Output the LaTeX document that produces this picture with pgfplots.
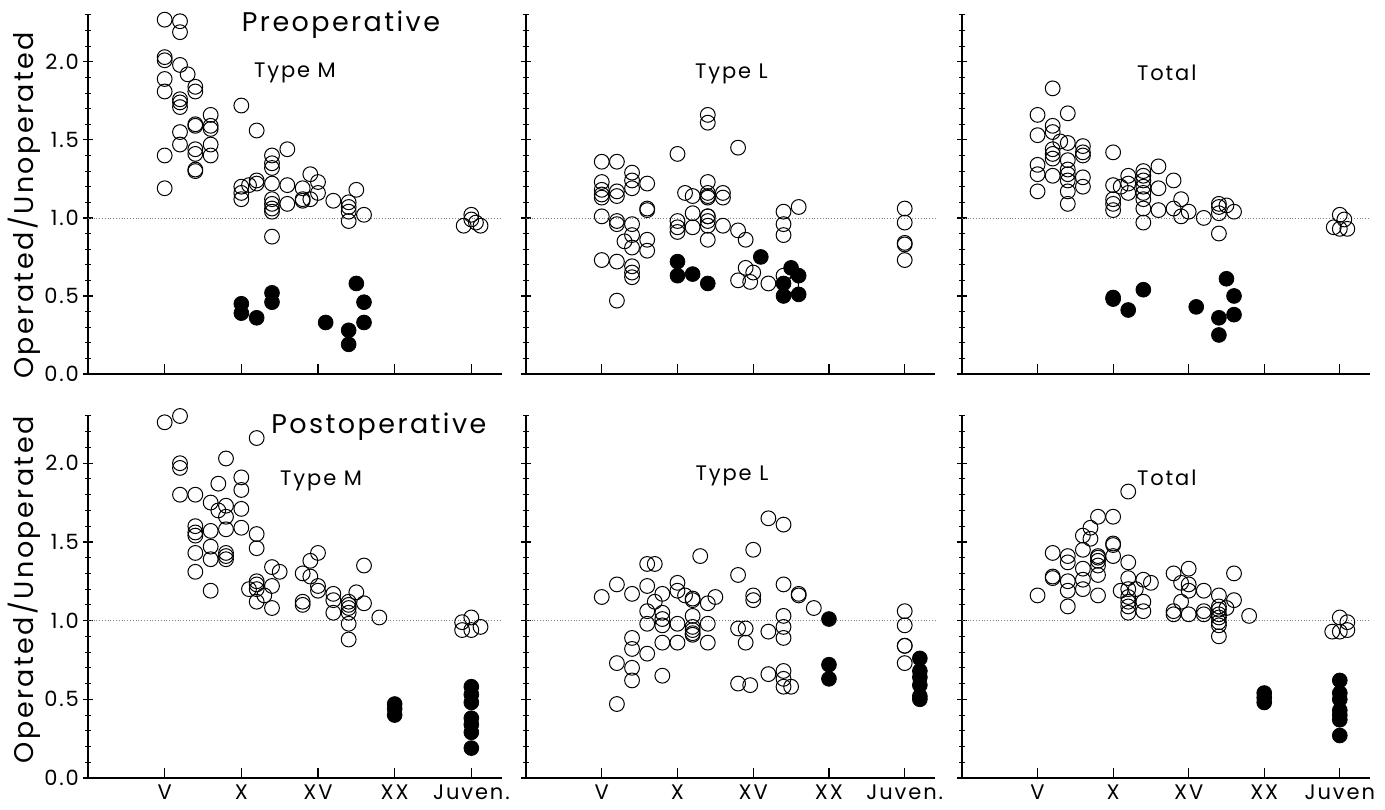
\documentclass[border=0pt]{standalone}
\usepackage{pgfplots}
\pgfplotsset{compat=1.18}
\usepackage{fontspec}
\setmainfont{Poppins}[LetterSpace=9]

\pgfplotsset{
  panel/.style={
    scale only axis, clip=false,
    xmin=0, xmax=27, ymin=0, ymax=2.3,
    axis x line*=bottom, axis y line*=left,
    axis line style={-, line width=0.7pt},
    xtick={5,10,15,20,25},
    ytick={0,0.5,1,1.5,2},
    minor ytick={0.1,0.2,0.3,0.4,0.6,0.7,0.8,0.9,1.1,1.2,1.3,1.4,1.6,1.7,1.8,1.9,2.1,2.2,2.3},
    xtick align=inside, ytick align=center,
    major tick length=5pt, minor tick length=3pt,
    every tick/.style={black, line width=0.6pt},
    minor tick style={line width=0.5pt},
    xticklabels={}, yticklabels={},
    tick label style={font=\fontsize{10.5}{12}\selectfont},
    yticklabel style={xshift=1.5pt},
    every axis y label/.style={rotate=90, anchor=center, font=\fontsize{13.5}{15}\selectfont},
  },
  ylab/.style={yticklabels={0.0,0.5,1.0,1.5,2.0}, ylabel={Operated/Unoperated}},
  xlab/.style={xticklabels={V,X,XV,XX,Juven.}},
  opn/.style={only marks, mark=o, mark size=3.7pt, mark options={line width=0.5pt, black}},
  fil/.style={only marks, mark=*, mark size=3.7pt, mark options={black, fill=black}},
  ref/.style={densely dotted, gray, line width=0.4pt, forget plot},
}
\newcommand{\bigttl}[1]{\fontsize{13.5}{15}\selectfont #1}
\newcommand{\midttl}[1]{\fontsize{10.5}{12}\selectfont #1}

\begin{document}
\begin{tikzpicture}
\useasboundingbox (0pt,0pt) rectangle (692.5pt,404.5pt);

% ---------------- Top left: Preoperative, Type M
\begin{axis}[panel, ylab, ylabel style={at={(axis description cs:-0.155,0.47)}}, at={(44pt,217.5pt)}, anchor=south west, width=207pt, height=179.5pt]
\addplot[ref] coordinates {(0,1) (27,1)};
\addplot[opn] coordinates {
(5,2.27)(5,2.03)(5,2.01)(5,1.89)(5,1.81)(5,1.40)(5,1.19)
(6,2.26)(6,2.19)(6,1.98)(6,1.76)(6,1.74)(6,1.71)(6,1.55)(6,1.47)
(6.5,1.92)
(7,1.84)(7,1.81)(7,1.60)(7,1.59)(7,1.44)(7,1.41)(7,1.31)(7,1.30)
(8,1.66)(8,1.59)(8,1.57)(8,1.47)(8,1.40)
(10,1.72)(10,1.20)(10,1.16)(10,1.12)
(10.5,1.21)
(11,1.56)(11,1.24)(11,1.22)
(12,1.40)(12,1.35)(12,1.32)(12,1.22)(12,1.12)(12,1.09)(12,1.06)(12,1.04)(12,0.88)
(13,1.44)(13,1.21)(13,1.09)
(14,1.19)(14,1.12)(14,1.11)
(14.5,1.28)(14.5,1.12)
(15,1.23)(15,1.16)
(16,1.11)
(17,1.10)(17,1.07)(17,1.04)(17,0.98)
(17.5,1.18)
(18,1.02)
(24.5,0.95)(25,1.02)(25,0.99)(25.3,0.97)(25.6,0.95)
};
\addplot[fil] coordinates {
(10,0.45)(10,0.39)(11,0.36)(12,0.52)(12,0.46)(15.5,0.33)(17,0.28)(17,0.19)(17.5,0.58)(18,0.46)(18,0.33)
};
\node at (axis cs:16.5,2.24) {\bigttl{Preoperative}};
\node at (axis cs:13.5,1.93) {\midttl{Type M}};
\end{axis}

% ---------------- Top middle: Type L
\begin{axis}[panel, at={(263pt,217.5pt)}, anchor=south west, width=204.5pt, height=179.5pt]
\addplot[ref] coordinates {(0,1) (27,1)};
\addplot[opn] coordinates {
(5,1.36)(5,1.23)(5,1.18)(5,1.15)(5,1.13)(5,1.01)(5,0.73)
(6,1.36)(6,1.17)(6,1.14)(6,0.98)(6,0.96)(6,0.72)(6,0.47)
(6.5,0.85)
(7,1.29)(7,1.24)(7,1.19)(7,0.96)(7,0.89)(7,0.81)(7,0.69)(7,0.65)(7,0.62)
(8,1.22)(8,1.06)(8,1.05)(8,0.86)(8,0.79)
(10,1.41)(10,0.98)(10,0.94)(10,0.91)
(10.5,1.16)
(11,1.14)(11,1.03)(11,0.94)
(12,1.66)(12,1.61)(12,1.23)(12,1.16)(12,1.14)(12,1.13)(12,1.01)(12,1.01)(12,0.98)(12,0.95)(12,0.86)
(13,1.16)(13,1.13)(13,0.95)
(14,1.45)(14,0.92)(14,0.60)
(14.5,0.86)(14.5,0.68)
(14.8,0.59)
(15,0.65)
(16,0.58)
(17,1.04)(17,0.96)(17,0.89)(17,0.63)
(17.5,0.57)
(18,1.07)
(25,1.06)(25,0.97)(25,0.84)(25,0.83)(25,0.73)
};
\addplot[fil] coordinates {
(10,0.72)(10,0.63)(11,0.64)(12,0.58)(15.5,0.75)(17,0.58)(17,0.50)(17.5,0.68)(18,0.63)(18,0.51)
};
\node at (axis cs:13.56,1.92) {\midttl{Type L}};
\end{axis}

% ---------------- Top right: Total
\begin{axis}[panel, at={(481pt,217.5pt)}, anchor=south west, width=204pt, height=179.5pt]
\addplot[ref] coordinates {(0,1) (27,1)};
\addplot[opn] coordinates {
(5,1.66)(5,1.53)(5,1.34)(5,1.28)(5,1.17)
(6,1.83)(6,1.59)(6,1.55)(6,1.44)(6,1.41)(6,1.38)(6,1.27)
(6.5,1.49)
(7,1.67)(7,1.48)(7,1.37)(7,1.31)(7,1.28)(7,1.24)(7,1.17)(7,1.09)
(8,1.46)(8,1.42)(8,1.40)(8,1.26)(8,1.20)
(10,1.42)(10,1.21)(10,1.12)(10,1.09)(10,1.05)
(10.5,1.20)
(11,1.27)(11,1.22)(11,1.16)
(12,1.30)(12,1.27)(12,1.24)(12,1.20)(12,1.16)(12,1.12)(12,1.06)(12,0.97)
(13,1.33)(13,1.19)(13,1.05)
(14,1.24)(14,1.06)
(14.5,1.12)(14.5,1.01)
(15,1.04)
(16,1.00)
(17,1.09)(17,1.07)(17,1.03)(17,0.90)
(17.5,1.08)
(18,1.04)
(24.6,0.94)(25,1.02)(25,0.93)(25.3,0.99)(25.5,0.93)
};
\addplot[fil] coordinates {
(10,0.49)(10,0.48)(11,0.41)(12,0.54)(15.5,0.43)(17,0.36)(17,0.25)(17.5,0.61)(18,0.50)(18,0.38)
};
\node at (axis cs:13.55,1.93) {\midttl{Total}};
\end{axis}

% ---------------- Bottom left: Postoperative, Type M
\begin{axis}[panel, ylab, xlab, ylabel style={at={(axis description cs:-0.155,0.52)}}, at={(44pt,15.5pt)}, anchor=south west, width=207pt, height=181pt]
\addplot[ref] coordinates {(0,1) (27,1)};
\addplot[opn] coordinates {
(5,2.26)
(6,2.30)(6,2.00)(6,1.97)(6,1.80)
(7,1.80)(7,1.60)(7,1.56)(7,1.54)(7,1.43)(7,1.31)
(8,1.75)(8,1.57)(8,1.47)(8,1.39)(8,1.19)
(8.5,1.87)(8.5,1.70)
(9,2.03)(9,1.73)(9,1.66)(9,1.58)(9,1.43)(9,1.41)(9,1.39)
(10,1.91)(10,1.83)(10,1.71)(10,1.59)
(10.5,1.20)
(11,2.16)(11,1.55)(11,1.46)(11,1.25)(11,1.23)(11,1.20)(11,1.12)
(11.5,1.16)
(12,1.34)(12,1.22)(12,1.08)
(12.5,1.31)
(14,1.30)(14,1.12)(14,1.10)
(14.5,1.38)(14.5,1.28)
(15,1.43)(15,1.22)(15,1.19)
(16,1.17)(16,1.13)(16,1.05)
(17,1.12)(17,1.10)(17,1.08)(17,1.05)(17,0.98)(17,0.88)
(17.5,1.18)
(18,1.35)(18,1.11)
(19,1.02)
(24.4,0.99)(24.4,0.94)(25,1.02)(25,0.94)(25.6,0.96)
};
\addplot[fil] coordinates {
(20,0.47)(20,0.44)(20,0.40)
(25,0.58)(25,0.53)(25,0.48)(25,0.38)(25,0.34)(25,0.29)(25,0.19)
};
\node at (axis cs:18.97,2.23) {\bigttl{Postoperative}};
\node at (axis cs:15.2,1.89) {\midttl{Type M}};
\end{axis}

% ---------------- Bottom middle: Type L
\begin{axis}[panel, xlab, at={(263pt,15.5pt)}, anchor=south west, width=204.5pt, height=181pt]
\addplot[ref] coordinates {(0,1) (27,1)};
\addplot[opn] coordinates {
(5,1.15)
(6,1.23)(6,0.73)(6,0.47)
(7,1.17)(7,0.89)(7,0.82)(7,0.70)(7,0.62)
(8,1.36)(8,1.22)(8,1.06)(8,0.98)(8,0.79)
(8.5,1.36)(8.5,1.12)
(9,1.17)(9,1.05)(9,1.01)(9,0.97)(9,0.86)(9,0.65)
(10,1.24)(10,1.19)(10,0.98)(10,0.86)
(10.5,1.16)
(11,1.14)(11,1.13)(11,1.03)(11,0.96)(11,0.94)(11,0.92)(11,0.91)
(11.5,1.41)
(12,1.11)(12,0.98)(12,0.86)
(12.5,1.15)
(14,1.29)(14,0.95)(14,0.60)
(14.5,0.95)(14.5,0.86)
(14.8,0.59)
(15,1.45)(15,1.16)(15,1.13)
(16,1.65)(16,0.93)(16,0.66)
(17,1.61)(17,1.23)(17,1.03)(17,0.96)(17,0.89)(17,0.68)(17,0.63)(17,0.58)
(17.5,0.58)
(18,1.17)(18,1.16)
(19,1.08)
(25,1.06)(25,0.97)(25,0.84)(25,0.84)(25,0.73)
};
\addplot[fil] coordinates {
(20,1.01)(20,0.72)(20,0.63)
(26,0.76)(26,0.68)(26,0.64)(26,0.59)(26,0.52)(26,0.50)
};
\node at (axis cs:13.6,1.92) {\midttl{Type L}};
\end{axis}

% ---------------- Bottom right: Total
\begin{axis}[panel, xticklabels={V,X,XV,XX,Juven}, at={(481pt,15.5pt)}, anchor=south west, width=204pt, height=181pt]
\addplot[ref] coordinates {(0,1) (27,1)};
\addplot[opn] coordinates {
(5,1.16)
(6,1.43)(6,1.28)(6,1.27)
(7,1.41)(7,1.37)(7,1.25)(7,1.19)(7,1.09)
(8,1.54)(8,1.45)(8,1.33)(8,1.26)(8,1.20)
(8.5,1.59)(8.5,1.52)
(9,1.66)(9,1.41)(9,1.40)(9,1.38)(9,1.35)(9,1.29)(9,1.16)
(10,1.66)(10,1.49)(10,1.48)(10,1.41)
(10.5,1.19)
(11,1.82)(11,1.37)(11,1.27)(11,1.20)(11,1.15)(11,1.12)(11,1.09)(11,1.05)
(11.5,1.20)
(12,1.26)(12,1.12)(12,1.06)
(12.5,1.24)
(14,1.30)(14,1.06)(14,1.04)
(14.5,1.24)(14.5,1.12)
(15,1.33)(15,1.23)(15,1.19)(15,1.04)
(16,1.19)(16,1.06)(16,1.04)
(17,1.16)(17,1.09)(17,1.07)(17,1.04)(17,1.02)(17,0.99)(17,0.97)(17,0.90)
(17.5,1.08)
(18,1.30)(18,1.13)
(19,1.03)
(24.5,0.93)(25,1.02)(25,0.93)(25.5,0.99)(25.5,0.94)
};
\addplot[fil] coordinates {
(20,0.54)(20,0.51)(20,0.48)
(25,0.62)(25,0.54)(25,0.50)(25,0.43)(25,0.40)(25,0.37)(25,0.27)
};
\node at (axis cs:13.55,1.91) {\midttl{Total}};
\end{axis}
\end{tikzpicture}
\end{document}
